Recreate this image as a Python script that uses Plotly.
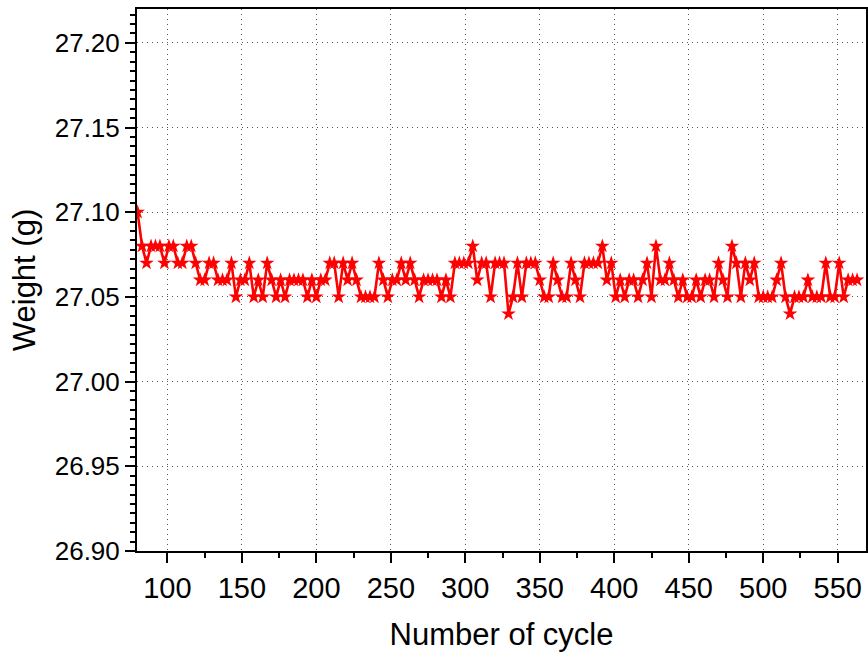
import plotly.graph_objects as go

cycles = list(range(80, 564, 3))
weights = [
    27.10, 27.08, 27.07, 27.08, 27.08, 27.08, 27.07, 27.08, 27.08, 27.07,
    27.07, 27.08, 27.08, 27.07, 27.06, 27.06, 27.07, 27.07, 27.06, 27.06,
    27.06, 27.07, 27.05, 27.06, 27.06, 27.07, 27.05, 27.06, 27.05, 27.07,
    27.06, 27.05, 27.06, 27.05, 27.06, 27.06, 27.06, 27.06, 27.05, 27.06,
    27.05, 27.06, 27.06, 27.07, 27.07, 27.05, 27.07, 27.06, 27.07, 27.06,
    27.05, 27.05, 27.05, 27.05, 27.07, 27.06, 27.05, 27.06, 27.06, 27.07,
    27.06, 27.07, 27.06, 27.05, 27.06, 27.06, 27.06, 27.06, 27.05, 27.06,
    27.05, 27.07, 27.07, 27.07, 27.07, 27.08, 27.06, 27.07, 27.07, 27.05,
    27.07, 27.07, 27.07, 27.04, 27.05, 27.07, 27.05, 27.07, 27.07, 27.07,
    27.06, 27.05, 27.05, 27.07, 27.06, 27.05, 27.05, 27.07, 27.06, 27.05,
    27.07, 27.07, 27.07, 27.07, 27.08, 27.06, 27.07, 27.05, 27.06, 27.05,
    27.06, 27.06, 27.05, 27.06, 27.07, 27.05, 27.08, 27.06, 27.06, 27.07,
    27.06, 27.05, 27.06, 27.05, 27.05, 27.06, 27.05, 27.06, 27.06, 27.05,
    27.07, 27.06, 27.05, 27.08, 27.07, 27.05, 27.07, 27.06, 27.07, 27.05,
    27.05, 27.05, 27.05, 27.06, 27.07, 27.05, 27.04, 27.05, 27.05, 27.05,
    27.06, 27.05, 27.05, 27.05, 27.07, 27.05, 27.05, 27.07, 27.05, 27.06,
    27.06, 27.06,
]
x_ticks = [100, 150, 200, 250, 300, 350, 400, 450, 500, 550]
y_ticks = [26.90, 26.95, 27.00, 27.05, 27.10, 27.15, 27.20]
y_tick_text = ["26.90", "26.95", "27.00", "27.05", "27.10", "27.15", "27.20"]

FONT = "Liberation Sans, Arial, sans-serif"

fig = go.Figure()
fig.add_trace(go.Scatter(
    x=cycles, y=weights, mode="lines+markers",
    line=dict(color="#ff0000", width=2.6),
    marker=dict(symbol="star", size=11, color="#ff0000", line=dict(width=0)),
    showlegend=False,
))

fig.update_layout(
    width=868, height=652,
    margin=dict(l=137, r=0, t=9, b=101),
    paper_bgcolor="white", plot_bgcolor="white",
    font=dict(family=FONT, color="black"),
)
fig.update_xaxes(
    range=[79.6, 569],
    tickmode="array", tickvals=x_ticks,
    ticks="outside", ticklen=10, tickwidth=2, tickcolor="black",
    tickfont=dict(size=29, family=FONT),
    showline=True, linecolor="black", linewidth=2, mirror=True,
    showgrid=True, gridcolor="#555555", griddash="1px,4px", gridwidth=1,
    zeroline=False,
    minor=dict(dtick=25, tick0=75, ticks="outside", ticklen=5, tickwidth=2,
               tickcolor="black", showgrid=False),
    title=dict(text="Number of cycle", font=dict(size=31, family=FONT), standoff=24),
)
fig.update_yaxes(
    range=[26.90, 27.22],
    tickmode="array", tickvals=y_ticks, ticktext=y_tick_text,
    ticks="outside", ticklen=10, tickwidth=2, tickcolor="black",
    tickfont=dict(size=26, family=FONT),
    showline=True, linecolor="black", linewidth=2, mirror=True,
    showgrid=True, gridcolor="#555555", griddash="1px,4px", gridwidth=1,
    zeroline=False,
    minor=dict(dtick=0.05 / 9, tick0=26.90, ticks="outside", ticklen=5, tickwidth=2,
               tickcolor="black", showgrid=False),
    title=dict(text="Weight (g)", font=dict(size=31, family=FONT), standoff=10),
)

fig.write_html("out.html")
